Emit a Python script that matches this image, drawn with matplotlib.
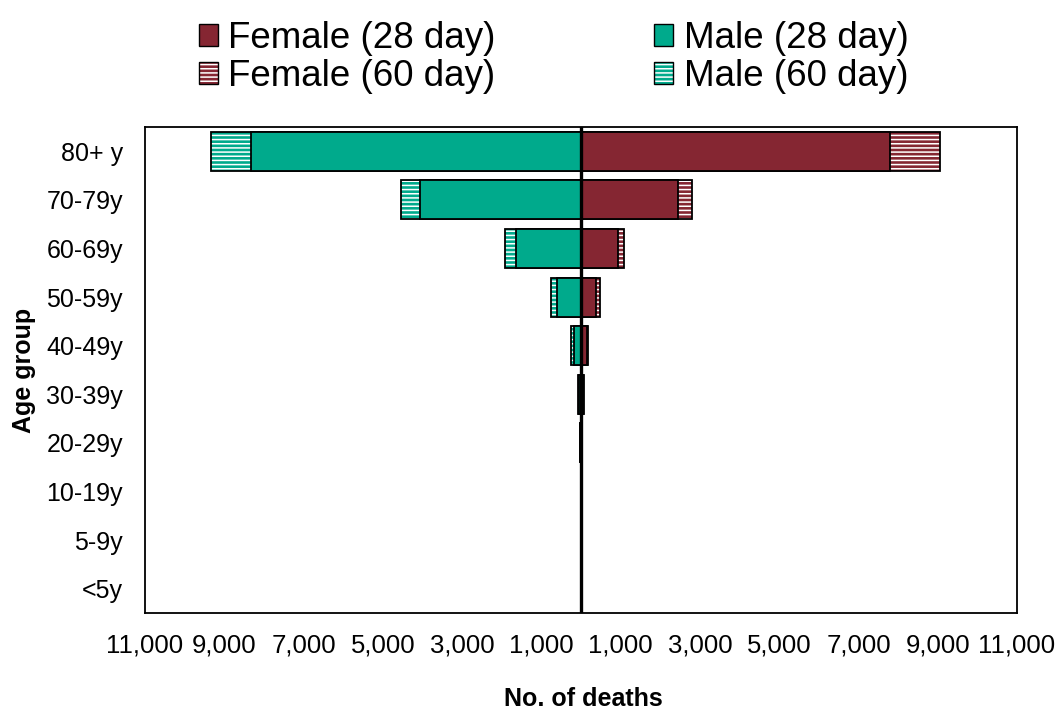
import matplotlib
matplotlib.use("Agg")
import matplotlib.pyplot as plt
from matplotlib.patches import Patch
from matplotlib.ticker import FixedLocator, FuncFormatter

plt.rcParams['font.family'] = ['Liberation Sans', 'DejaVu Sans']
plt.rcParams['hatch.linewidth'] = 1.1

# ---- data (bottom to top) ----
age_groups = ['<5y', '5-9y', '10-19y', '20-29y', '30-39y', '40-49y',
              '50-59y', '60-69y', '70-79y', '80+ y']
female_28 = [1, 0, 2, 12, 55, 150, 380, 925, 2440, 7800]
female_60 = [1, 0, 3, 16, 70, 185, 470, 1075, 2790, 9065]
male_28 = [1, 1, 3, 20, 60, 185, 605, 1640, 4055, 8320]
male_60 = [1, 1, 4, 25, 75, 245, 755, 1910, 4540, 9325]
x_ticks = [-11000, -9000, -7000, -5000, -3000, -1000,
           1000, 3000, 5000, 7000, 9000, 11000]

female_color = '#852632'
male_color = '#00AA8C'

fig = plt.figure(figsize=(10.6, 7.11), dpi=100)
ax = fig.add_axes([145/1060, 1-613/711, (1017-145)/1060, (613-127)/711])

y = list(range(len(age_groups)))
h = 0.8
lw = 1.3

# 60-day (hatched, full length)
ax.barh(y, [-v for v in male_60], height=h, color=male_color,
        edgecolor='white', hatch='----', linewidth=0, zorder=2)
ax.barh(y, [-v for v in male_60], height=h, fill=False,
        edgecolor='black', linewidth=lw, zorder=3)
ax.barh(y, female_60, height=h, color=female_color,
        edgecolor='white', hatch='----', linewidth=0, zorder=2)
ax.barh(y, female_60, height=h, fill=False,
        edgecolor='black', linewidth=lw, zorder=3)
# 28-day (solid)
ax.barh(y, [-v for v in male_28], height=h, color=male_color,
        edgecolor='black', linewidth=lw, zorder=4)
ax.barh(y, female_28, height=h, color=female_color,
        edgecolor='black', linewidth=lw, zorder=4)

ax.axvline(0, color='black', linewidth=2.4, zorder=6)

ax.set_xlim(-11000, 11000)
ax.set_ylim(-0.5, len(age_groups) - 0.5)
ax.xaxis.set_major_locator(FixedLocator(x_ticks))
ax.xaxis.set_major_formatter(FuncFormatter(lambda v, p: f"{abs(int(round(v))):,}"))
ax.set_yticks(y)
ax.set_yticklabels(age_groups)
ax.tick_params(axis='x', length=0, pad=15, labelsize=18.5)
ax.tick_params(axis='y', length=0, pad=16, labelsize=18)
for s in ax.spines.values():
    s.set_linewidth(1.3)
    s.set_color('black')

fig.text(24/1060, 1-370/711, 'Age group', rotation=90, ha='center', va='center',
         fontsize=18, fontweight='bold')
fig.text(583/1060, 1-699/711, 'No. of deaths', ha='center', va='center',
         fontsize=18, fontweight='bold')

# legend
h_f28 = Patch(facecolor=female_color, edgecolor='black', linewidth=1.0)
h_m28 = Patch(facecolor=male_color, edgecolor='black', linewidth=1.0)
h_f60 = (Patch(facecolor=female_color, edgecolor='white', hatch='----', linewidth=0),
         Patch(fill=False, edgecolor='black', linewidth=1.0))
h_m60 = (Patch(facecolor=male_color, edgecolor='white', hatch='----', linewidth=0),
         Patch(fill=False, edgecolor='black', linewidth=1.0))
fig.legend([h_f28, h_f60, h_m28, h_m60],
           ['Female (28 day)', 'Female (60 day)', 'Male (28 day)', 'Male (60 day)'],
           ncol=2, loc='upper left', bbox_to_anchor=(199/1060, 1-21/711),
           frameon=False, fontsize=26.5, borderpad=0, borderaxespad=0,
           handlelength=0.52, handleheight=0.52, handletextpad=0.28,
           columnspacing=4.3, labelspacing=0.08)

fig.savefig('out.png', dpi=100)
